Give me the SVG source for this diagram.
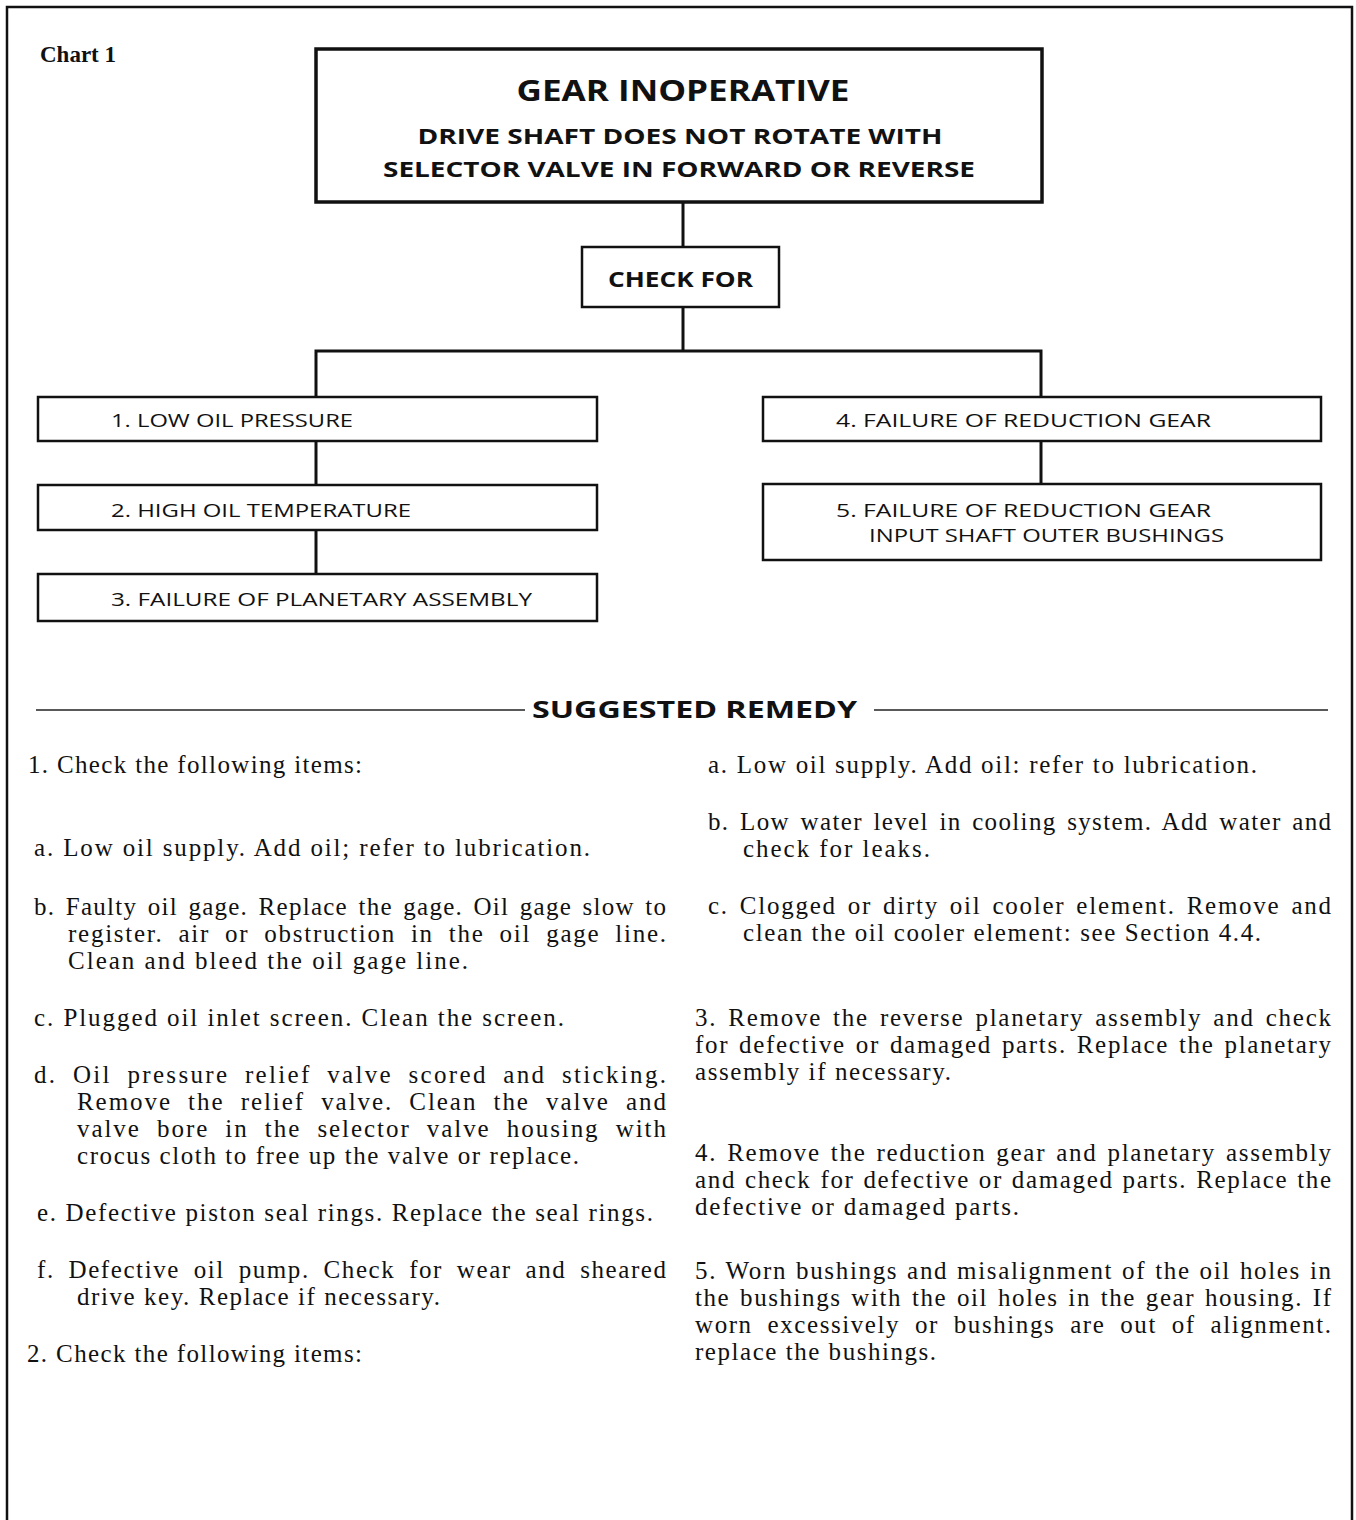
<svg xmlns="http://www.w3.org/2000/svg" width="1356" height="1520" viewBox="0 0 1356 1520">
  <style>
    .frame { fill: none; stroke: #111; stroke-width: 2.5; }
    .box { fill: #fff; stroke: #111; stroke-width: 2.5; }
    .mainbox { fill: #fff; stroke: #111; stroke-width: 3.5; }
    .wire { fill: none; stroke: #111; stroke-width: 3; }
    .rule { fill: none; stroke: #222; stroke-width: 1.5; }
    .head { font-family: "Open Sans", "Liberation Sans", sans-serif; font-weight: bold; fill: #111; text-anchor: middle; }
    .lbl { font-family: "Open Sans", "Liberation Sans", sans-serif; font-size: 19px; fill: #111; }
    .body { font-family: "Liberation Serif", "Times New Roman", serif; font-size: 25px; fill: #111; }
    .chart { font-family: "Liberation Serif", "Times New Roman", serif; font-size: 24px; font-weight: bold; fill: #111; }
  </style>

  <rect width="1356" height="1520" fill="#fff"/>

  <!-- page frame, open at the bottom -->
  <path class="frame" d="M7,1520 V7 H1352 V1520"/>

  <text class="chart" x="40" y="62" textLength="76" lengthAdjust="spacingAndGlyphs">Chart 1</text>

  <!-- connectors -->
  <g id="connectors">
    <path class="wire" d="M683,202 V247"/>
    <path class="wire" d="M683,307 V351"/>
    <path class="wire" d="M316,397 V351 H1041 V397"/>
    <path class="wire" d="M316,441 V485"/>
    <path class="wire" d="M316,530 V574"/>
    <path class="wire" d="M1041,441 V484"/>
  </g>

  <g id="gear-inoperative">
    <rect class="mainbox" x="316" y="49" width="726" height="153"/>
    <text class="head" x="683" y="101" font-size="29" textLength="333" lengthAdjust="spacingAndGlyphs">GEAR INOPERATIVE</text>
    <text class="head" x="680" y="144" font-size="21" textLength="525" lengthAdjust="spacingAndGlyphs">DRIVE SHAFT DOES NOT ROTATE WITH</text>
    <text class="head" x="679" y="177" font-size="21" textLength="592" lengthAdjust="spacingAndGlyphs">SELECTOR VALVE IN FORWARD OR REVERSE</text>
  </g>

  <g id="check-for">
    <rect class="box" x="582" y="247" width="197" height="60"/>
    <text class="head" x="680.5" y="287" font-size="21" textLength="145" lengthAdjust="spacingAndGlyphs">CHECK FOR</text>
  </g>

  <g id="cause-1">
    <rect class="box" x="38" y="397" width="559" height="44"/>
    <text class="lbl" x="111" y="427" textLength="242" lengthAdjust="spacingAndGlyphs">1. LOW OIL PRESSURE</text>
  </g>

  <g id="cause-2">
    <rect class="box" x="38" y="485" width="559" height="45"/>
    <text class="lbl" x="111" y="517" textLength="300" lengthAdjust="spacingAndGlyphs">2. HIGH OIL TEMPERATURE</text>
  </g>

  <g id="cause-3">
    <rect class="box" x="38" y="574" width="559" height="47"/>
    <text class="lbl" x="111" y="606" textLength="421" lengthAdjust="spacingAndGlyphs">3. FAILURE OF PLANETARY ASSEMBLY</text>
  </g>

  <g id="cause-4">
    <rect class="box" x="763" y="397" width="558" height="44"/>
    <text class="lbl" x="836" y="427" textLength="375" lengthAdjust="spacingAndGlyphs">4. FAILURE OF REDUCTION GEAR</text>
  </g>

  <g id="cause-5">
    <rect class="box" x="763" y="484" width="558" height="76"/>
    <text class="lbl" x="836" y="517" textLength="375" lengthAdjust="spacingAndGlyphs">5. FAILURE OF REDUCTION GEAR</text>
    <text class="lbl" x="869" y="542" textLength="355" lengthAdjust="spacingAndGlyphs">INPUT SHAFT OUTER BUSHINGS</text>
  </g>

  <!-- remedy heading -->
  <g id="remedy-heading">
    <path class="rule" d="M36,710 H525"/>
    <path class="rule" d="M874,710 H1328"/>
    <text class="head" x="694.5" y="718" font-size="23" textLength="325" lengthAdjust="spacingAndGlyphs">SUGGESTED REMEDY</text>
  </g>

  <!-- remedy text, left column (justified lines widen mostly at word gaps) -->
  <g id="remedy-left" class="body">
    <text x="28" y="773" textLength="334" lengthAdjust="spacing">1. Check the following items:</text>
    <text x="34" y="856" textLength="556" lengthAdjust="spacing">a.  Low oil supply. Add oil; refer to lubrication.</text>
    <text x="34" y="915" textLength="632" lengthAdjust="spacing" word-spacing="3">b.  Faulty oil gage. Replace the gage. Oil gage slow to</text>
    <text x="68" y="942" textLength="598" lengthAdjust="spacing" word-spacing="7">register. air or obstruction in the oil gage line.</text>
    <text x="68" y="969" textLength="400" lengthAdjust="spacing">Clean and bleed the oil gage line.</text>
    <text x="34" y="1026" textLength="530" lengthAdjust="spacing">c.  Plugged oil inlet screen.  Clean the screen.</text>
    <text x="34" y="1083" textLength="632" lengthAdjust="spacing" word-spacing="7">d. Oil pressure relief valve scored and sticking.</text>
    <text x="77" y="1110" textLength="589" lengthAdjust="spacing" word-spacing="8">Remove the relief valve. Clean the valve and</text>
    <text x="77" y="1137" textLength="589" lengthAdjust="spacing" word-spacing="8">valve bore in the selector valve housing with</text>
    <text x="77" y="1164" textLength="502" lengthAdjust="spacing">crocus cloth to free up the valve or replace.</text>
    <text x="37" y="1221" textLength="616" lengthAdjust="spacing">e.  Defective piston seal rings. Replace the seal rings.</text>
    <text x="37" y="1278" textLength="629" lengthAdjust="spacing" word-spacing="6">f.  Defective oil pump. Check for wear and sheared</text>
    <text x="77" y="1305" textLength="363" lengthAdjust="spacing">drive key. Replace if necessary.</text>
    <text x="27" y="1362" textLength="335" lengthAdjust="spacing">2. Check the following items:</text>
  </g>

  <!-- remedy text, right column -->
  <g id="remedy-right" class="body">
    <text x="708" y="773" textLength="549" lengthAdjust="spacing">a.  Low oil supply. Add oil: refer to lubrication.</text>
    <text x="708" y="830" textLength="623" lengthAdjust="spacing" word-spacing="3">b.  Low water level in cooling system. Add water and</text>
    <text x="743" y="857" textLength="187" lengthAdjust="spacing">check for leaks.</text>
    <text x="708" y="914" textLength="623" lengthAdjust="spacing" word-spacing="3">c.  Clogged or dirty oil cooler element. Remove and</text>
    <text x="743" y="941" textLength="518" lengthAdjust="spacing">clean the oil cooler element: see Section  4.4.</text>
    <text x="695" y="1026" textLength="636" lengthAdjust="spacing" word-spacing="3">3. Remove the reverse planetary assembly and check</text>
    <text x="695" y="1053" textLength="636" lengthAdjust="spacing" word-spacing="2">for defective or damaged parts. Replace the planetary</text>
    <text x="695" y="1080" textLength="256" lengthAdjust="spacing">assembly if necessary.</text>
    <text x="695" y="1161" textLength="636" lengthAdjust="spacing" word-spacing="2">4. Remove the reduction gear and planetary assembly</text>
    <text x="695" y="1188" textLength="636" lengthAdjust="spacing" word-spacing="1">and check for defective or damaged parts. Replace the</text>
    <text x="695" y="1215" textLength="324" lengthAdjust="spacing">defective or damaged parts.</text>
    <text x="695" y="1279" textLength="636" lengthAdjust="spacing" word-spacing="1">5. Worn bushings and misalignment of the oil holes in</text>
    <text x="695" y="1306" textLength="636" lengthAdjust="spacing" word-spacing="2">the bushings with the oil holes in the gear housing. If</text>
    <text x="695" y="1333" textLength="636" lengthAdjust="spacing" word-spacing="7">worn excessively or bushings are out of alignment.</text>
    <text x="695" y="1360" textLength="241" lengthAdjust="spacing">replace the bushings.</text>
  </g>
</svg>
